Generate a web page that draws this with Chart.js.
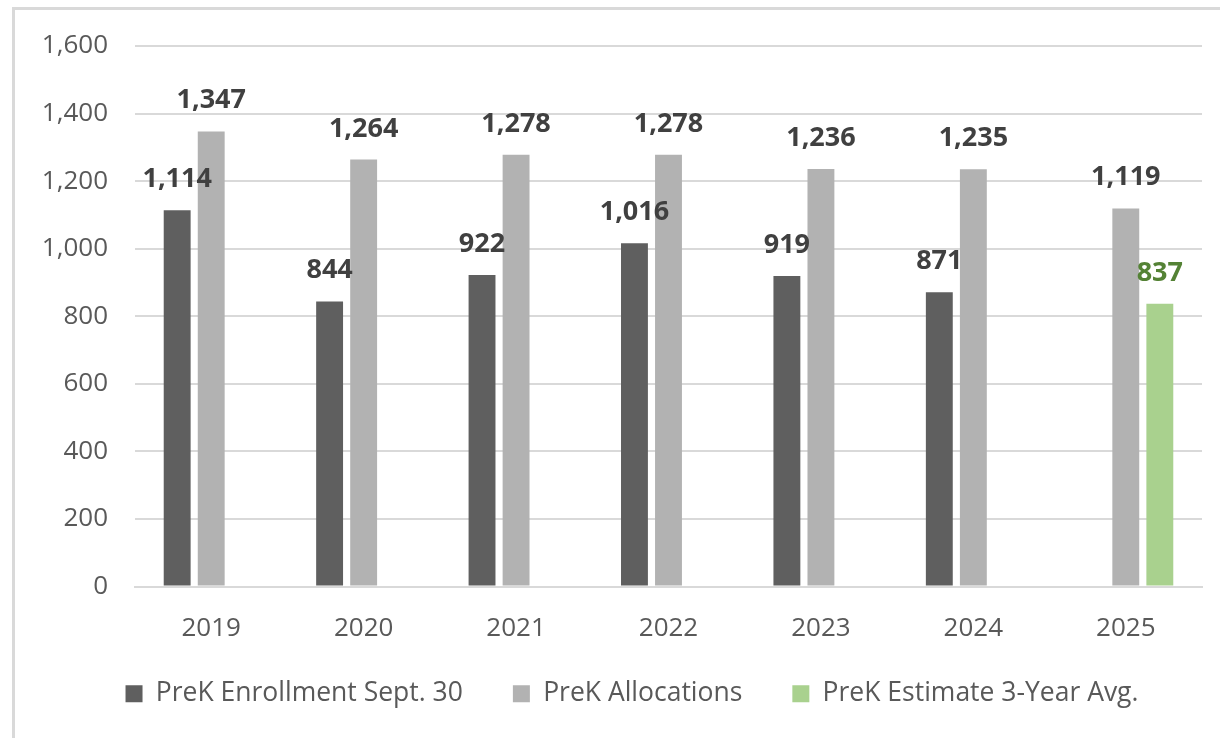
<!DOCTYPE html>
<html>
<head>
<meta charset="utf-8">
<script src="https://cdn.jsdelivr.net/npm/chart.js@4"></script>
<style>
  html, body { margin: 0; padding: 0; background: #ffffff; }
  #wrap { position: relative; width: 1220px; height: 738px; overflow: hidden; }
  #frame { position: absolute; left: 12px; top: 7px; width: 1300px; height: 800px;
           border-left: 3px solid #d9d9d9; border-top: 3px solid #d9d9d9; box-sizing: border-box; }
  canvas { position: absolute; left: 0; top: 0; }
</style>
</head>
<body>
<div id="wrap">
  <div id="frame"></div>
  <canvas id="c" width="1220" height="738"></canvas>
</div>
<script>
const categories = ['2019', '2020', '2021', '2022', '2023', '2024', '2025'];
const enrollment = [1114, 844, 922, 1016, 919, 871, null];
const allocations = [1347, 1264, 1278, 1278, 1236, 1235, 1119];
const estimate = [null, null, null, null, null, null, 837];
const seriesNames = ['PreK Enrollment Sept. 30', 'PreK Allocations', 'PreK Estimate 3-Year Avg.'];
const yTicks = [0, 200, 400, 600, 800, 1000, 1200, 1400, 1600];

const FONT = '"Open Sans", "Liberation Sans", sans-serif';

const valueLabels = {
  id: 'valueLabels',
  afterDatasetsDraw(chart) {
    const ctx = chart.ctx;
    ctx.save();
    ctx.font = 'bold 27px ' + FONT;
    ctx.textAlign = 'center';
    ctx.textBaseline = 'alphabetic';
    chart.data.datasets.forEach((ds, i) => {
      const meta = chart.getDatasetMeta(i);
      ctx.fillStyle = ds.labelColor;
      meta.data.forEach((bar, j) => {
        const v = ds.data[j];
        if (v === null || v === undefined) return;
        ctx.fillText(v.toLocaleString('en-US'), bar.x, bar.y - 23);
      });
    });
    ctx.restore();
  }
};

const legendShift = {
  id: 'legendShift',
  afterLayout(chart) {
    const lg = chart.legend;
    if (!lg) return;
    lg.left += 31; lg.right += 31;
    lg.top -= 16; lg.bottom -= 16;
  }
};

new Chart(document.getElementById('c'), {
  type: 'bar',
  data: {
    labels: categories,
    datasets: [
      { label: seriesNames[0], data: enrollment, backgroundColor: '#5f5f5f', labelColor: '#404040' },
      { label: seriesNames[1], data: allocations, backgroundColor: '#b2b2b2', labelColor: '#404040' },
      { label: seriesNames[2], data: estimate, backgroundColor: '#a9d18e', labelColor: '#548235' }
    ]
  },
  options: {
    responsive: false,
    animation: false,
    categoryPercentage: 0.67,
    barPercentage: 0.79,
    layout: { padding: { left: 0, right: 18, top: 46, bottom: 5 } },
    plugins: {
      tooltip: { enabled: false },
      legend: {
        position: 'bottom',
        labels: {
          boxWidth: 17, boxHeight: 17, padding: 50,
          color: '#595959',
          font: { family: FONT, size: 26.5 }
        }
      }
    },
    scales: {
      x: {
        grid: { display: false, drawTicks: false },
        border: { display: true, color: '#d9d9d9', width: 2 },
        ticks: { color: '#595959', font: { family: FONT, size: 26 }, padding: 26 },
        afterFit(scale) { scale.height = 60; }
      },
      y: {
        min: 0, max: 1600,
        afterBuildTicks(scale) { scale.ticks = yTicks.map(v => ({ value: v })); },
        grid: { color: '#d9d9d9', lineWidth: 2, drawTicks: false },
        border: { display: false },
        ticks: {
          color: '#595959', font: { family: FONT, size: 26 }, padding: 27,
          callback: v => v.toLocaleString('en-US')
        },
        afterFit(scale) { scale.width = 135; }
      }
    }
  },
  plugins: [valueLabels, legendShift]
});
</script>
</body>
</html>
